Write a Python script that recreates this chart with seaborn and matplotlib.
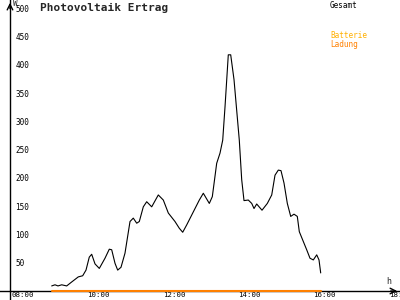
import matplotlib
matplotlib.use("Agg")
import matplotlib.pyplot as plt
import matplotlib.transforms as mtransforms
import seaborn as sns
import pandas as pd

# --- data ---
stunden = [8.974, 9.062, 9.141, 9.240, 9.372, 9.505, 9.680, 9.797, 9.885, 9.972,
           10.036, 10.124, 10.238, 10.389, 10.503, 10.567, 10.655, 10.726, 10.814, 10.920,
           11.053, 11.140, 11.231, 11.300, 11.406, 11.496, 11.629, 11.804, 11.937, 12.070,
           12.247, 12.362, 12.452, 12.558, 12.893, 12.999, 13.158, 13.238, 13.354, 13.442,
           13.514, 13.575, 13.662, 13.726, 13.814, 13.954, 14.018, 14.079, 14.193, 14.284,
           14.345, 14.416, 14.557, 14.698, 14.815, 14.902, 14.990, 15.061, 15.141, 15.229,
           15.319, 15.406, 15.494, 15.547, 15.743, 15.831, 15.919, 16.009, 16.070, 16.115]
gesamt_w = [9, 11, 9, 11, 9, 16, 25, 27, 37, 60,
            65, 48, 40, 58, 74, 73, 49, 37, 42, 67,
            123, 129, 120, 123, 149, 158, 149, 170, 161, 138,
            123, 111, 104, 117, 161, 173, 155, 167, 226, 244,
            267, 326, 418, 418, 374, 267, 197, 160, 161, 155,
            146, 154, 143, 155, 170, 205, 214, 213, 191, 155,
            132, 136, 132, 105, 73, 58, 55, 64, 55, 32]
ladung_stunden = [8.974, 16.115]
ladung_w = [0, 0]

x_ticks = [8, 10, 12, 14, 16, 18]
x_labels = ["08:00", "10:00", "12:00", "14:00", "16:00", "18:00"]
y_ticks = [50, 100, 150, 200, 250, 300, 350, 400, 450, 500]
y_labels = [str(v) for v in y_ticks]

titel = "Photovoltaik Ertrag"
legende = ["Gesamt", "Batterie", "Ladung"]

# --- plotting ---
sns.set_style("white")
plt.rcParams["font.family"] = ["DejaVu Sans Mono", "DejaVu Sans"]

fig = plt.figure(figsize=(4, 3), dpi=100)
ax = fig.add_axes([0, 0, 1, 1])

df = pd.DataFrame({"h": stunden, "W": gesamt_w})
dfl = pd.DataFrame({"h": ladung_stunden, "W": ladung_w})
sns.lineplot(data=df, x="h", y="W", ax=ax, color="black", lw=0.8)
sns.lineplot(data=dfl, x="h", y="W", ax=ax, color="#FF8000", lw=1.5, zorder=5)

x0 = 7.867
ax.set_xlim(7.602, 18.22)
ax.set_ylim(-15.9, 515)
ax.set_xlabel("")
ax.set_ylabel("")
for s in ["top", "right"]:
    ax.spines[s].set_visible(False)
ax.spines["left"].set_position(("data", x0))
ax.spines["bottom"].set_position(("data", 0))
for s in ["left", "bottom"]:
    ax.spines[s].set_color("black")
    ax.spines[s].set_linewidth(1.0)

ax.set_xticks(x_ticks)
ax.set_xticklabels(x_labels)
ax.set_yticks(y_ticks)
ax.set_yticklabels(y_labels)
ax.tick_params(axis="both", direction="inout", length=6, width=1, color="black",
               labelsize=5.5, labelcolor="black")
ax.tick_params(axis="y", pad=-7)
ax.tick_params(axis="x", pad=-2.5, labelsize=5.3)
for lab in ax.get_yticklabels():
    lab.set_ha("left")
off = mtransforms.ScaledTranslation(-3 / 100, 0, fig.dpi_scale_trans)
for lab in ax.get_xticklabels():
    lab.set_ha("left")
    lab.set_transform(lab.get_transform() + off)

# axis arrows
ax.annotate("", xy=(x0, 515), xytext=(x0, 495),
            arrowprops=dict(arrowstyle="->", lw=1, color="black"))
ax.annotate("", xy=(18.22, 0), xytext=(17.9, 0),
            arrowprops=dict(arrowstyle="->", lw=1, color="black"))

ax.text(13 / 400, 1 - 4 / 300, "W", transform=ax.transAxes, fontsize=5.5,
        ha="left", va="center")
ax.text(386 / 400, 1 - 281 / 300, "h", transform=ax.transAxes, fontsize=6,
        ha="left", va="center")

ax.text(40 / 400, 1 - 8 / 300, titel, transform=ax.transAxes, fontsize=8,
        fontweight="bold", ha="left", va="center")
ax.text(330 / 400, 1 - 5 / 300, legende[0], transform=ax.transAxes, fontsize=5.5,
        ha="left", va="center", color="black")
ax.text(330 / 400, 1 - 36 / 300, legende[1], transform=ax.transAxes, fontsize=5.5,
        ha="left", va="center", color="#FFB000")
ax.text(330 / 400, 1 - 44 / 300, legende[2], transform=ax.transAxes, fontsize=5.5,
        ha="left", va="center", color="#FF8000")

fig.savefig("out.png", dpi=100)
